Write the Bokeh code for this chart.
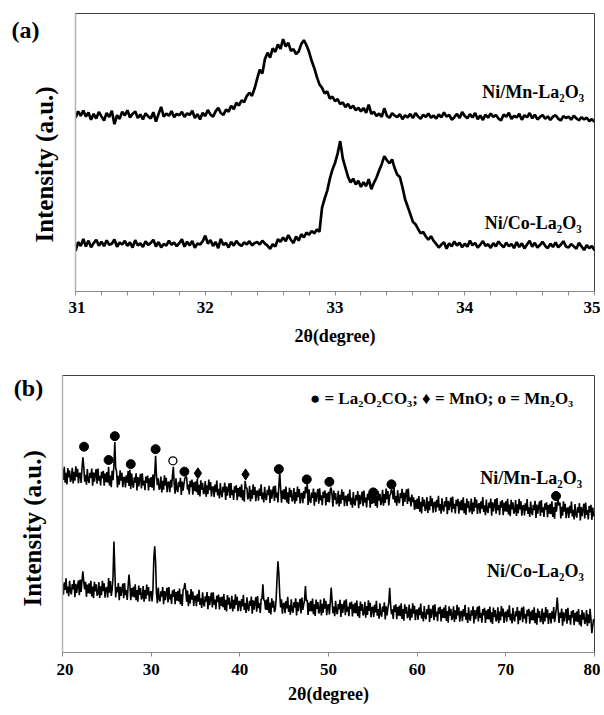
import numpy as np
from bokeh.plotting import figure
from bokeh.layouts import column, row
from bokeh.models import FixedTicker
from bokeh.core.properties import value
from bokeh.embed import file_html
from bokeh.resources import INLINE

FONT = "Liberation Serif"

# ---------------- panel (a): 2theta 31-35, step 0.02 ----------------
a_x_start, a_x_step = 31.0, 0.02
a_mn = [
    62.5, 64.8, 63.2, 65.1, 62.9, 64.4, 61.8, 63.9, 62.2, 64.6,
    63.0, 61.5, 64.2, 62.8, 65.0, 60.2, 63.4, 62.1, 64.7, 63.3,
    65.2, 62.6, 63.9, 64.8, 62.4, 63.7, 61.9, 64.1, 63.0, 62.2,
    64.5, 61.1, 63.8, 66.4, 62.9, 64.0, 63.2, 64.9, 62.7, 63.9,
    63.4, 64.6, 62.8, 64.1, 63.5, 65.0, 62.4, 63.8, 61.9, 64.3,
    63.1, 65.3, 63.6, 62.9, 64.8, 66.1, 64.2, 63.5, 65.4, 64.7,
    66.8, 65.6, 67.9, 66.9, 68.8, 68.1, 70.3, 71.5, 70.4, 73.0,
    76.5, 79.8, 78.4, 83.6, 85.9, 84.1, 87.5, 86.2, 88.9, 87.3,
    90.8, 88.1, 89.5, 86.6, 87.2, 85.4, 86.3, 89.0, 90.4, 88.6,
    86.2, 83.0, 80.4, 77.2, 74.5, 73.3, 71.2, 72.0, 69.4, 70.1,
    68.5, 69.2, 67.4, 68.0, 66.3, 67.5, 65.9, 66.8, 65.2, 66.1,
    64.8, 66.0, 64.3, 67.2, 63.9, 64.6, 63.1, 64.0, 62.8, 65.9,
    63.2, 62.5, 64.1, 63.3, 62.7, 63.8, 62.0, 63.4, 62.6, 63.9,
    62.4, 64.2, 63.0, 62.1, 63.6, 62.8, 64.0, 62.5, 63.3, 62.2,
    63.7, 62.6, 64.4, 62.9, 63.5, 61.8, 62.7, 63.9, 62.4, 64.6,
    63.1, 62.3, 63.8, 62.6, 64.2, 62.0, 63.3, 61.7, 63.6, 62.5,
    64.0, 62.8, 63.5, 62.2, 61.5, 63.7, 62.9, 64.3, 62.1, 63.2,
    62.6, 63.9, 61.8, 63.4, 62.7, 64.2, 62.3, 63.6, 61.9, 62.8,
    63.5, 62.1, 63.0, 61.7, 62.9, 63.4, 62.2, 61.5, 63.1, 62.4,
    62.9, 61.8, 63.2, 62.3, 61.6, 62.7, 61.9, 62.5, 61.3, 62.0,
    61.0,
]
a_co = [
    14.5, 17.8, 16.4, 18.9, 16.2, 18.3, 15.9, 17.4, 18.6, 16.5,
    17.9, 16.3, 18.4, 16.8, 17.2, 18.7, 16.1, 17.6, 16.9, 18.2,
    16.4, 17.7, 15.8, 18.5, 16.6, 17.3, 16.0, 18.1, 16.7, 17.5,
    18.6, 16.2, 17.8, 15.9, 17.1, 16.5, 18.3, 16.8, 17.6, 16.3,
    17.4, 18.8, 16.1, 17.9, 16.6, 18.2, 15.7, 17.3, 16.9, 18.0,
    20.1, 17.2, 18.5, 16.4, 17.8, 15.6, 18.9, 16.7, 17.5, 15.8,
    17.9, 16.5, 18.2, 17.0, 16.4, 17.7, 16.9, 18.1, 16.6, 17.4,
    17.8, 16.9, 18.3, 17.2, 16.5, 15.3, 17.0, 16.2, 18.8, 17.9,
    19.4, 18.1, 20.3, 18.6, 17.4, 19.8, 18.3, 20.6, 19.5, 21.2,
    20.4, 21.8, 20.9, 22.3, 21.5, 30.1, 33.4, 36.2, 40.5, 43.8,
    46.2, 49.6, 54.1, 47.9, 44.6, 41.3, 39.2, 40.6, 38.5, 39.8,
    37.6, 39.3, 37.9, 40.4, 36.8, 39.1, 41.0, 43.5, 45.8, 48.7,
    47.2, 46.1, 47.5, 44.3, 42.0, 41.2, 37.5, 33.2, 30.6, 27.9,
    25.1, 24.2, 22.5, 20.9, 21.4, 19.8, 18.6, 19.9, 18.2, 17.1,
    15.8, 16.9, 17.7, 15.4, 17.3, 16.2, 18.0, 16.5, 17.6, 15.9,
    17.2, 16.1, 18.3, 16.6, 17.5, 15.8, 16.9, 18.1, 16.4, 17.0,
    15.7, 17.4, 16.2, 18.0, 16.8, 15.9, 17.6, 16.3, 17.1, 15.6,
    17.8, 16.0, 17.3, 15.5, 16.9, 18.2, 16.1, 17.5, 15.8, 16.7,
    17.9, 16.4, 15.6, 17.2, 16.0, 17.7, 15.9, 16.8, 18.1, 16.2,
    15.8, 17.1, 16.3, 15.4, 17.5, 16.2, 14.9, 16.7, 15.6, 16.4,
    14.8,
]

# ---------------- panel (b): 2theta 20-80, step 0.1 ----------------
b_x_start, b_x_step = 20.0, 0.1
b_mn = [
    66.1, 62.3, 67.0, 61.3, 64.9, 60.7, 66.6, 63.2, 65.7, 61.6,
    62.6, 66.7, 61.0, 65.2, 62.0, 67.2, 63.4, 66.3, 61.1, 64.5,
    64.9, 61.2, 66.5, 70.5, 67.0, 61.7, 64.1, 60.6, 66.2, 62.3,
    61.2, 64.9, 63.0, 66.4, 60.2, 65.0, 61.7, 64.3, 66.2, 60.9,
    66.4, 62.0, 63.8, 60.3, 65.2, 62.9, 65.6, 60.2, 64.6, 61.5,
    65.1, 61.3, 67.0, 60.3, 63.9, 59.7, 65.6, 62.2, 68.0, 76.0,
    66.5, 65.3, 59.6, 63.8, 60.6, 65.8, 62.0, 64.9, 59.7, 63.1,
    63.3, 59.6, 64.0, 61.3, 65.5, 60.1, 66.0, 59.0, 64.6, 60.7,
    59.5, 63.2, 61.3, 64.7, 58.5, 63.3, 60.0, 62.6, 64.5, 59.2,
    64.7, 60.3, 62.1, 58.6, 63.5, 61.2, 63.9, 58.5, 62.9, 59.8,
    63.3, 59.5, 64.2, 58.5, 64.5, 71.0, 63.8, 60.4, 62.9, 58.8,
    59.4, 63.5, 57.8, 62.0, 58.8, 64.0, 60.2, 63.1, 57.9, 61.3,
    61.6, 57.9, 62.3, 59.6, 63.8, 67.0, 60.8, 57.3, 62.9, 59.0,
    57.9, 61.6, 59.7, 63.1, 56.9, 61.7, 58.4, 61.0, 62.9, 63.5,
    63.2, 58.8, 60.6, 57.1, 62.0, 59.7, 62.4, 57.0, 61.4, 58.3,
    61.7, 57.9, 62.6, 56.9, 60.5, 56.3, 62.2, 58.8, 61.3, 57.2,
    57.8, 61.9, 56.2, 60.4, 57.2, 62.4, 58.6, 61.5, 56.3, 59.7,
    59.9, 56.2, 60.6, 57.9, 62.1, 56.7, 59.1, 55.6, 61.2, 57.3,
    56.1, 59.8, 57.9, 61.3, 55.1, 59.9, 56.6, 59.2, 61.1, 55.8,
    61.2, 56.8, 58.6, 55.1, 60.0, 57.7, 60.4, 55.0, 59.4, 56.3,
    59.8, 56.0, 60.7, 55.0, 58.6, 54.4, 62.0, 59.5, 59.4, 55.3,
    56.1, 60.2, 54.5, 58.7, 55.5, 60.7, 56.9, 59.8, 54.6, 58.0,
    58.5, 54.8, 59.2, 56.5, 60.7, 55.3, 57.7, 54.2, 59.8, 55.9,
    55.0, 58.7, 56.8, 60.2, 54.0, 58.8, 55.5, 58.1, 60.0, 54.7,
    60.3, 55.9, 57.7, 54.2, 60.0, 65.0, 59.5, 54.1, 58.5, 55.4,
    59.0, 55.2, 59.9, 54.2, 57.8, 53.6, 59.5, 56.1, 58.6, 54.5,
    55.3, 59.4, 53.7, 57.9, 54.7, 59.9, 56.1, 59.0, 53.8, 57.2,
    57.6, 53.9, 58.3, 55.6, 59.8, 57.5, 61.0, 53.3, 58.9, 55.0,
    54.0, 57.7, 55.8, 59.2, 53.0, 57.8, 54.5, 57.1, 59.0, 53.7,
    59.3, 54.9, 56.7, 53.2, 58.1, 55.8, 58.5, 53.1, 57.5, 54.4,
    58.0, 54.2, 58.9, 59.5, 56.8, 52.6, 58.5, 55.1, 57.6, 53.5,
    54.3, 58.4, 52.7, 56.9, 53.7, 58.9, 55.1, 58.0, 52.8, 56.2,
    56.6, 52.9, 57.3, 54.6, 58.8, 53.4, 55.8, 52.3, 57.9, 54.0,
    53.1, 56.8, 54.9, 58.3, 52.1, 56.9, 53.6, 56.2, 58.1, 52.8,
    58.5, 54.1, 55.9, 52.4, 57.3, 55.0, 57.7, 52.3, 56.7, 53.6,
    57.5, 53.9, 58.6, 52.9, 56.5, 52.3, 58.2, 54.8, 57.3, 53.2,
    54.6, 58.7, 53.0, 57.2, 54.0, 59.2, 55.4, 58.3, 53.1, 56.5,
    57.3, 59.0, 58.0, 55.3, 59.5, 54.1, 56.5, 53.0, 58.6, 54.7,
    53.9, 57.6, 55.7, 59.1, 52.9, 57.7, 54.4, 57.0, 58.9, 53.6,
    59.2, 54.6, 56.0, 52.7, 57.0, 54.3, 56.0, 51.5, 55.0, 51.9,
    55.6, 51.8, 56.5, 50.8, 54.4, 50.2, 56.1, 52.7, 55.2, 51.1,
    52.0, 56.1, 50.4, 54.6, 51.4, 56.6, 52.8, 55.7, 50.5, 53.9,
    54.4, 50.7, 55.1, 52.4, 56.6, 51.2, 53.6, 50.1, 55.7, 51.8,
    50.9, 54.6, 52.7, 56.1, 49.9, 54.7, 51.4, 54.0, 55.9, 50.6,
    56.3, 51.9, 53.7, 50.2, 55.1, 52.8, 55.5, 50.1, 54.5, 51.4,
    55.1, 51.3, 56.0, 50.3, 53.9, 49.7, 55.6, 52.2, 54.7, 50.6,
    51.5, 55.6, 49.9, 54.1, 50.9, 56.1, 52.3, 55.2, 50.0, 53.4,
    53.9, 50.2, 54.6, 51.9, 56.1, 50.7, 53.1, 49.6, 55.2, 51.3,
    50.4, 54.1, 52.2, 55.6, 49.4, 54.2, 50.9, 53.5, 55.4, 50.1,
    55.8, 51.4, 53.2, 49.7, 54.6, 52.3, 55.0, 49.6, 54.0, 50.9,
    54.6, 50.8, 55.5, 49.8, 53.4, 49.2, 55.1, 51.7, 54.2, 50.1,
    50.9, 55.0, 49.3, 53.5, 50.3, 55.5, 51.7, 54.6, 49.4, 52.8,
    53.2, 49.5, 53.9, 51.2, 55.4, 50.0, 52.4, 48.9, 54.5, 50.6,
    49.6, 53.3, 51.4, 54.8, 48.6, 53.4, 50.1, 52.7, 54.6, 49.3,
    55.0, 50.6, 52.4, 48.9, 53.8, 51.5, 54.2, 48.8, 53.2, 50.1,
    53.7, 49.9, 54.6, 48.9, 52.5, 48.3, 54.2, 50.8, 53.8, 55.0,
    53.0, 54.1, 48.4, 52.6, 49.4, 54.6, 50.8, 53.7, 48.5, 51.9,
    52.3, 48.6, 53.0, 50.3, 54.5, 49.1, 51.5, 48.0, 53.6, 49.7,
    48.7, 52.4, 50.5, 53.9, 47.7, 52.5, 49.2, 51.8, 53.7, 48.4,
    54.1, 49.7, 51.5, 48.0, 52.9, 50.6, 53.3, 47.9, 52.3, 49.2,
    50.2,
]
b_co = [
    24.6, 20.9, 25.3, 22.6, 26.8, 21.4, 23.8, 20.3, 25.9, 22.0,
    21.0, 24.7, 22.8, 26.2, 20.0, 24.8, 21.5, 24.1, 26.0, 20.7,
    26.3, 21.9, 26.0, 29.3, 25.5, 22.8, 25.5, 20.1, 24.5, 21.4,
    25.0, 21.2, 25.9, 20.2, 23.8, 19.6, 25.5, 22.1, 24.6, 20.5,
    21.3, 25.4, 19.7, 23.9, 20.7, 25.9, 22.1, 25.0, 19.8, 23.2,
    23.6, 19.9, 26.9, 21.6, 25.8, 20.4, 22.8, 27.5, 40.1, 30.0,
    19.9, 23.6, 21.7, 25.1, 18.9, 23.7, 20.4, 23.0, 24.9, 19.6,
    25.1, 20.7, 22.5, 19.0, 23.9, 28.1, 24.3, 18.9, 23.3, 20.2,
    23.7, 19.9, 24.6, 18.9, 22.5, 18.3, 24.2, 20.8, 23.3, 19.2,
    19.9, 24.0, 18.3, 22.5, 19.3, 24.5, 20.7, 23.6, 18.4, 21.8,
    22.1, 18.4, 22.8, 34.0, 38.3, 32.5, 21.3, 17.8, 23.4, 19.5,
    18.4, 22.1, 20.2, 23.6, 17.4, 22.2, 18.9, 21.5, 23.4, 18.1,
    23.6, 19.2, 21.0, 17.5, 22.4, 20.1, 22.8, 17.4, 21.8, 18.7,
    22.2, 18.4, 23.1, 17.4, 21.0, 16.8, 22.7, 23.0, 25.1, 22.5,
    18.3, 22.4, 16.7, 20.9, 17.7, 22.9, 19.1, 22.0, 16.8, 20.2,
    20.4, 16.7, 21.1, 18.4, 22.6, 17.2, 19.6, 16.1, 21.7, 17.8,
    16.6, 20.3, 18.4, 21.8, 15.6, 20.4, 17.1, 19.7, 21.6, 16.3,
    21.7, 17.3, 19.1, 15.6, 20.5, 18.2, 20.9, 15.5, 19.9, 16.8,
    20.2, 16.4, 21.1, 15.4, 19.0, 14.8, 20.7, 17.3, 19.8, 15.7,
    16.4, 20.5, 14.8, 19.0, 15.8, 21.0, 17.2, 20.1, 14.9, 18.3,
    18.6, 14.9, 19.3, 16.6, 20.8, 15.4, 17.8, 14.3, 19.9, 16.0,
    15.0, 18.7, 16.8, 20.2, 14.0, 18.8, 15.5, 18.1, 20.0, 14.7,
    20.4, 16.0, 17.8, 14.3, 19.2, 19.5, 24.6, 19.0, 18.6, 15.5,
    19.1, 15.3, 20.0, 14.3, 17.9, 13.7, 19.6, 16.2, 18.7, 14.6,
    15.5, 19.6, 27.0, 32.9, 28.5, 21.0, 16.3, 19.2, 14.0, 17.4,
    17.9, 14.2, 18.6, 15.9, 20.1, 14.7, 17.1, 13.6, 19.2, 15.3,
    14.4, 18.1, 16.2, 19.6, 13.4, 18.2, 14.9, 17.5, 19.4, 14.1,
    19.8, 15.4, 17.2, 19.0, 24.0, 18.5, 19.0, 13.6, 18.0, 14.9,
    18.6, 14.8, 19.5, 13.8, 17.4, 13.2, 19.1, 15.7, 18.2, 14.1,
    15.0, 19.1, 13.4, 17.6, 14.4, 19.6, 15.8, 18.7, 13.5, 16.9,
    17.4, 13.7, 18.1, 23.4, 19.0, 14.2, 16.6, 13.1, 18.7, 14.8,
    13.8, 17.5, 15.6, 19.0, 12.8, 17.6, 14.3, 16.9, 18.8, 13.5,
    19.2, 14.8, 16.6, 13.1, 18.0, 15.7, 18.4, 13.0, 17.4, 14.3,
    17.9, 14.1, 18.8, 13.1, 16.7, 12.5, 18.4, 15.0, 17.5, 13.4,
    14.2, 18.3, 12.6, 16.8, 13.6, 18.8, 15.0, 17.9, 12.7, 16.1,
    16.5, 12.8, 17.2, 14.5, 18.7, 13.3, 15.7, 12.2, 17.8, 13.9,
    12.9, 16.6, 14.7, 18.1, 11.9, 16.7, 13.4, 16.0, 18.0, 23.4,
    17.5, 13.8, 15.6, 12.1, 17.0, 14.7, 17.4, 12.0, 16.4, 13.3,
    16.9, 13.1, 17.8, 12.1, 15.7, 11.5, 17.4, 14.0, 16.5, 12.4,
    13.2, 17.3, 11.6, 15.8, 12.6, 17.8, 14.0, 16.9, 11.7, 15.1,
    15.5, 11.8, 16.2, 13.5, 17.7, 12.3, 14.7, 11.2, 16.8, 12.9,
    12.0, 15.7, 13.8, 17.2, 11.0, 15.8, 12.5, 15.1, 17.0, 11.7,
    17.4, 13.0, 14.8, 11.3, 16.2, 13.9, 16.6, 11.2, 15.6, 12.5,
    16.2, 12.4, 17.1, 11.4, 15.0, 10.8, 16.7, 13.3, 15.8, 11.7,
    12.6, 16.7, 11.0, 15.2, 12.0, 17.2, 13.4, 16.3, 11.1, 14.5,
    15.0, 11.3, 15.7, 13.0, 17.2, 11.8, 14.2, 10.7, 16.3, 12.4,
    11.5, 15.2, 13.3, 16.7, 10.5, 15.3, 12.0, 14.6, 16.5, 11.2,
    16.9, 12.5, 14.3, 10.8, 15.7, 13.4, 16.1, 10.7, 15.1, 12.0,
    15.7, 11.9, 16.6, 10.9, 14.5, 10.3, 16.2, 12.8, 15.3, 11.2,
    12.2, 16.3, 10.6, 14.8, 11.6, 16.8, 13.0, 15.9, 10.7, 14.1,
    14.8, 11.1, 15.5, 12.8, 17.0, 11.6, 14.0, 10.5, 16.1, 12.2,
    11.2, 14.9, 13.0, 16.4, 10.2, 15.0, 11.7, 14.3, 16.2, 10.9,
    16.6, 12.2, 14.0, 10.5, 15.4, 13.1, 15.8, 10.4, 14.8, 11.7,
    15.4, 11.6, 16.3, 10.6, 14.2, 10.0, 15.9, 12.5, 15.0, 10.9,
    11.8, 15.9, 10.2, 14.4, 11.2, 16.4, 12.6, 15.5, 10.3, 13.7,
    14.2, 10.5, 14.9, 12.2, 16.4, 11.0, 13.4, 16.0, 19.8, 15.0,
    10.7, 14.4, 12.5, 15.9, 9.7, 14.5, 11.2, 13.8, 15.7, 10.4,
    16.1, 11.7, 13.5, 10.0, 14.9, 12.6, 15.3, 9.9, 14.3, 11.2,
    14.8, 11.0, 15.7, 10.0, 13.6, 9.4, 15.3, 11.9, 14.4, 10.3,
    11.2, 15.3, 9.6, 13.8, 10.6, 15.8, 12.0, 7.0, 9.7, 12.1,
    11.0,
]

# phase markers in panel (b)
la2o2co3_x = [22.43, 25.2, 25.9, 27.7, 30.5, 33.75, 44.4, 47.55, 50.1, 55.05, 57.1, 75.66]
la2o2co3_y = [74.3, 69.5, 78.1, 68.0, 73.4, 65.3, 66.2, 62.5, 61.6, 57.8, 60.7, 56.5]
mno_x = [35.27, 40.65]
mno_y = [64.7, 64.3]
mn2o3_x = [32.45]
mn2o3_y = [69.2]

series_names = ["Ni/Mn-La\u2082O\u2083", "Ni/Co-La\u2082O\u2083"]
a_name_x = [34.92, 34.90]
a_name_y = [71.8, 24.5]
b_name_x = [78.6, 78.8]
b_name_y = [62.9, 29.3]
legend_text = ["\u25cf = La\u2082O\u2082CO\u2083; \u2666 = MnO; o = Mn\u2082O\u2083"]
legend_x = [77.6]
legend_y = [91.6]

a_ticks = [31, 32, 33, 34, 35]
a_minor = [t + 0.2 * k for t in a_ticks[:-1] for k in range(1, 5)]
b_ticks = [20, 30, 40, 50, 60, 70, 80]

x_title = "2\u03b8(degree)"
y_title = "Intensity (a.u.)"
panel_tags = ["(a)", "(b)"]


def style(p, ticks, minor):
    p.xgrid.visible = False
    p.ygrid.visible = False
    p.outline_line_color = "#404040"
    p.outline_line_width = 1
    p.background_fill_color = "white"
    p.border_fill_color = "white"
    ax = p.xaxis[0]
    ax.ticker = FixedTicker(ticks=ticks, minor_ticks=minor)
    ax.axis_line_color = "#8a8a8a"
    ax.axis_line_width = 1.2
    ax.major_tick_line_color = "#8a8a8a"
    ax.minor_tick_line_color = "#8a8a8a" if minor else None
    ax.major_tick_out = 4
    ax.major_tick_in = 0
    ax.minor_tick_out = 4
    ax.minor_tick_in = 0
    ax.major_label_text_font = FONT
    ax.major_label_text_font_style = "bold"
    ax.major_label_text_font_size = "17px"
    ax.major_label_text_color = "black"
    ax.major_label_standoff = 6
    ax.axis_label = x_title
    ax.axis_label_text_font = FONT
    ax.axis_label_text_font_style = "bold"
    ax.axis_label_text_font_size = "18px"
    ax.axis_label_text_color = "black"
    ay = p.yaxis[0]
    ay.ticker = FixedTicker(ticks=[])
    ay.major_label_text_font_size = "0px"
    ay.major_tick_line_color = None
    ay.minor_tick_line_color = None
    ay.axis_line_color = "#b4b4b4"
    ay.axis_line_width = 1.5


def side_fig(w, h, tag, tag_xy, ylab_xy):
    # narrow strip left of each panel (its frame lines up with the panel's frame,
    # so the vertical positions are given in the panel's 0-100 units)
    f = figure(width=w, height=h, x_range=(0, w), y_range=(0, 100),
               output_backend="svg", toolbar_location=None,
               x_axis_location=None, y_axis_location=None, min_border=0)
    f.grid.visible = False
    f.outline_line_color = None
    f.text(x=[tag_xy[0]], y=[tag_xy[1]], text=[tag], text_align="center",
           text_baseline="middle", text_font=value(FONT), text_font_style="bold",
           text_font_size="24px", text_color="black")
    f.text(x=[ylab_xy[0]], y=[ylab_xy[1]], text=[y_title], angle=np.pi / 2,
           text_align="center", text_baseline="middle", text_font=value(FONT),
           text_font_style="bold", text_font_size="25px", text_color="black")
    return f


# ---------- panel (a): page x 68..600, y 0..350 ----------
pa = figure(width=532, height=350, x_range=(31, 35), y_range=(0, 100),
            output_backend="svg", toolbar_location=None,
            min_border_left=7, min_border_right=6, min_border_top=13, min_border_bottom=59)
style(pa, a_ticks, a_minor)
pa.xaxis[0].axis_label_standoff = 10
xa = a_x_start + a_x_step * np.arange(len(a_mn))
xa2 = a_x_start + a_x_step * np.arange(len(a_co))
pa.line(xa, a_mn, line_color="black", line_width=2.7)
pa.line(xa2, a_co, line_color="black", line_width=2.7)
pa.text(x=a_name_x, y=a_name_y, text=series_names, text_align="right", text_baseline="middle",
        text_font=value(FONT), text_font_style="bold", text_font_size="18px", text_color="black")
sa = side_fig(68, 350, panel_tags[0], (25, 94.0), (44, 45.7))

# ---------- panel (b): page x 56..600, y 350..712 ----------
pb = figure(width=544, height=362, x_range=(20, 80), y_range=(0, 100),
            output_backend="svg", toolbar_location=None,
            min_border_left=6, min_border_right=6, min_border_top=25, min_border_bottom=60)
style(pb, b_ticks, [])
pb.xaxis[0].major_label_standoff = 7
pb.xaxis[0].axis_label_standoff = 6
xb = b_x_start + b_x_step * np.arange(len(b_mn))
xb2 = b_x_start + b_x_step * np.arange(len(b_co))
pb.line(xb, b_mn, line_color="black", line_width=1.6)
pb.line(xb2, b_co, line_color="black", line_width=1.6)
pb.scatter(la2o2co3_x, la2o2co3_y, marker="circle", size=9, fill_color="black", line_color="black")
pb.scatter(mno_x, mno_y, marker="diamond", size=11, fill_color="black", line_color="black")
pb.scatter(mn2o3_x, mn2o3_y, marker="circle", size=8, fill_color="white", line_color="black",
           line_width=1.3)
pb.text(x=b_name_x, y=b_name_y, text=series_names, text_align="right", text_baseline="middle",
        text_font=value(FONT), text_font_style="bold", text_font_size="18px", text_color="black")
pb.text(x=legend_x, y=legend_y, text=legend_text, text_align="right", text_baseline="middle",
        text_font=value(FONT), text_font_style="bold", text_font_size="17px", text_color="black")
sb = side_fig(56, 362, panel_tags[1], (28, 95.5), (32, 44.8))

layout = column(row(sa, pa, spacing=0), row(sb, pb, spacing=0), spacing=0)
open("out.html", "w").write(file_html(layout, INLINE))
